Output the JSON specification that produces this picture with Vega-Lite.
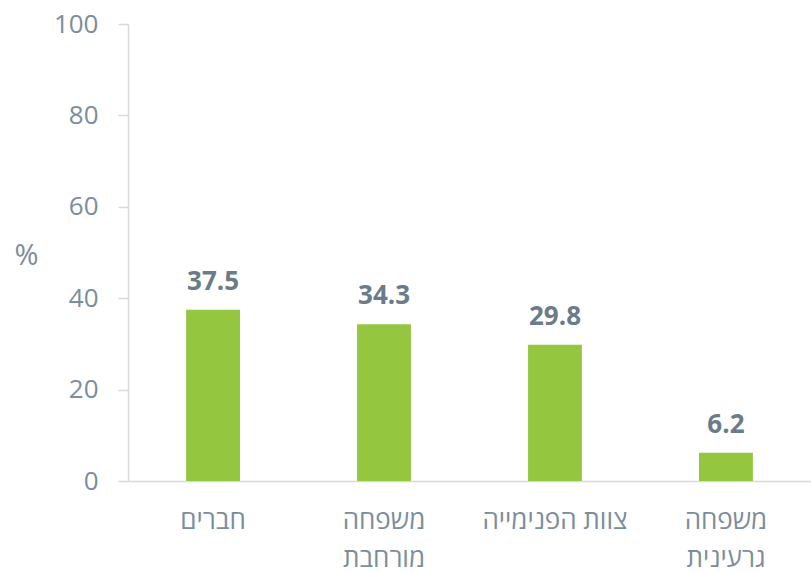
{
  "$schema": "https://vega.github.io/schema/vega-lite/v6.json",
  "autosize": "none",
  "width": 683,
  "height": 457,
  "padding": {"left": 128, "top": 24, "right": 0, "bottom": 92},
  "background": "white",
  "config": {"view": {"stroke": null}, "font": "Open Sans"},
  "data": {
    "values": [
      {"category": "חברים", "value": 37.5},
      {"category": "משפחה מורחבת", "value": 34.3},
      {"category": "צוות הפנימייה", "value": 29.8},
      {"category": "משפחה גרעינית", "value": 6.2}
    ]
  },
  "encoding": {
    "x": {
      "field": "category",
      "type": "nominal",
      "sort": null,
      "scale": {"paddingInner": 0.685, "paddingOuter": 0.34},
      "axis": {
        "title": null,
        "labelAngle": 0,
        "ticks": false,
        "domainColor": "#d9d9d9",
        "domainWidth": 1.5,
        "labelFont": "Open Sans",
        "labelFontSize": 26,
        "labelColor": "#7b8d9b",
        "labelPadding": 26,
        "labelLineHeight": 38,
        "labelBaseline": "top",
        "labelExpr": "datum.value == 'צוות הפנימייה' ? datum.value : split(datum.value, ' ')"
      }
    },
    "y": {
      "field": "value",
      "type": "quantitative",
      "scale": {"domain": [0, 100]},
      "axis": {
        "values": [0, 20, 40, 60, 80, 100],
        "grid": false,
        "title": "%",
        "titleAngle": 0,
        "titleX": -102,
        "titleY": 231,
        "titleAlign": "center",
        "titleBaseline": "middle",
        "titleFont": "Open Sans",
        "titleFontSize": 29,
        "titleFontWeight": "normal",
        "titleColor": "#7b8d9b",
        "domainColor": "#d9d9d9",
        "domainWidth": 1.5,
        "tickColor": "#d9d9d9",
        "tickWidth": 1.5,
        "tickSize": 10,
        "labelPadding": 20,
        "labelFont": "Open Sans",
        "labelFontSize": 26,
        "labelColor": "#7b8d9b"
      }
    }
  },
  "layer": [
    {"mark": {"type": "bar", "color": "#94c640"}},
    {
      "mark": {"type": "text", "baseline": "alphabetic", "dy": -20, "fontSize": 26, "fontWeight": "bold", "color": "#6a7b89", "font": "Open Sans"},
      "encoding": {"text": {"field": "value", "type": "quantitative", "format": ".1f"}}
    }
  ]
}
